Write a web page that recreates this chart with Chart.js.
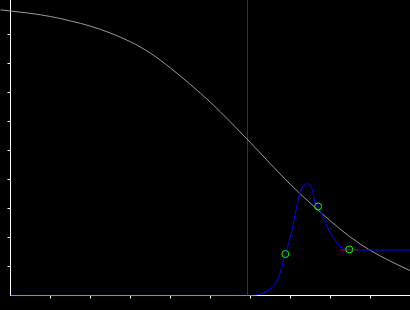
<!DOCTYPE html>
<html>
<head>
<meta charset="utf-8">
<script src="https://cdn.jsdelivr.net/npm/chart.js@4/dist/chart.umd.min.js"></script>
<style>
  html, body { margin: 0; padding: 0; background: #000; }
  .graphContainer { width: 410px; height: 310px; }
</style>
</head>
<body>
<div class="graphContainer">
  <canvas id="myChart"></canvas>
</div>
<script>
// falling curve (grey)
const curveX = [-0.25, 0, 0.5, 1, 1.5, 2, 2.5, 3, 3.5, 4, 4.5, 5, 5.5, 6, 6.5, 7, 7.5, 8, 8.5, 9, 9.5, 10];
const curveY = [9.85, 9.81, 9.73, 9.62, 9.47, 9.29, 9.05, 8.75, 8.36, 7.85, 7.28, 6.67, 5.99, 5.28, 4.55, 3.84, 3.19, 2.58, 2.02, 1.56, 1.19, 0.86];

// pulse (blue)
const pulseX = [0, 6.0, 6.25, 6.5, 6.7, 6.88, 7.04, 7.17, 7.25, 7.42, 7.55, 7.62, 7.70, 7.83, 7.95, 8.08, 8.25, 8.36, 8.48, 8.7, 10];
const pulseY = [0, 0, 0.05, 0.23, 0.59, 1.43, 2.2, 3.1, 3.56, 3.85, 3.66, 3.22, 3.07, 2.69, 2.3, 2.0, 1.7, 1.62, 1.59, 1.57, 1.57];

// green markers
const markerX = [6.88, 7.70, 8.48];
const markerY = [1.43, 3.07, 1.59];

// red level segment
const levelX = [8.25, 8.7];
const levelY = [1.57, 1.57];

// purple vertical cut
const cutX = 5.932;

const yMax = 10.19;
const xTickValues = [1, 2, 3, 4, 5, 6, 7, 8, 9, 10];
const yTickValues = [1, 2, 3, 4, 5, 6, 7, 8, 9];

const toPoints = (xs, ys) => xs.map((x, i) => ({ x: x, y: ys[i] }));

const lineDefaults = {
    pointRadius: 0,
    borderWidth: 1,
    fill: false
};

const ctx = document.getElementById("myChart").getContext("2d");

new Chart(ctx, {
    type: "line",
    data: {
        datasets: [
            {
                // circles on top
                data: toPoints(markerX, markerY),
                showLine: false,
                pointRadius: 3.5,
                pointBorderWidth: 1,
                pointBorderColor: "#00ff00",
                pointBackgroundColor: "rgba(0,0,0,0)"
            },
            {
                ...lineDefaults,
                data: toPoints(levelX, levelY),
                borderColor: "#b00000"
            },
            {
                ...lineDefaults,
                data: toPoints(pulseX, pulseY),
                borderColor: "#0000ff",
                cubicInterpolationMode: "monotone"
            },
            {
                ...lineDefaults,
                data: toPoints(curveX, curveY),
                borderColor: "#9a9a9a",
                cubicInterpolationMode: "monotone",
                clip: false
            },
            {
                ...lineDefaults,
                data: [{ x: cutX, y: 0 }, { x: cutX, y: yMax }],
                borderColor: "#800080"
            }
        ]
    },
    options: {
        responsive: true,
        maintainAspectRatio: false,
        animation: false,
        layout: {
            autoPadding: false,
            padding: { left: 7.5, right: 0, top: 0, bottom: 11.5 }
        },
        plugins: {
            legend: { display: false },
            tooltip: { enabled: false }
        },
        scales: {
            x: {
                type: "linear",
                min: 0,
                max: 10,
                afterBuildTicks: (scale) => { scale.ticks = xTickValues.map(v => ({ value: v })); },
                ticks: { display: false },
                grid: { drawOnChartArea: false, tickLength: 3, tickColor: "#ffffff" },
                border: { color: "#ffffff", width: 1 }
            },
            y: {
                type: "linear",
                min: 0,
                max: yMax,
                afterBuildTicks: (scale) => { scale.ticks = yTickValues.map(v => ({ value: v })); },
                ticks: { display: false },
                grid: { drawOnChartArea: false, tickLength: 3, tickColor: "#ffffff" },
                border: { color: "#ffffff", width: 1 }
            }
        }
    }
});
</script>
</body>
</html>
